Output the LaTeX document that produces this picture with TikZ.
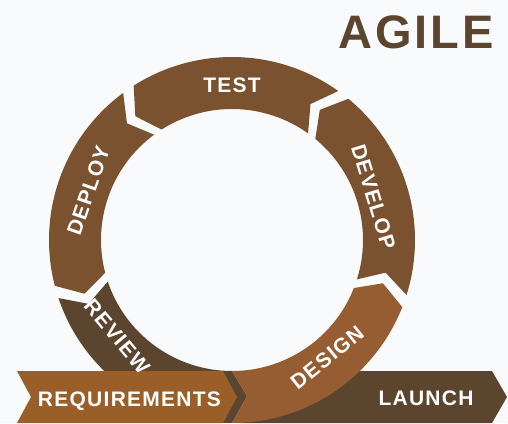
\documentclass[tikz,border=0pt]{standalone}
\usepackage{fontspec}
\setmainfont{Liberation Sans}
\newfontfamily\phasefont{Liberation Sans}[LetterSpace=6]
\usetikzlibrary{calc}
\definecolor{paper}{HTML}{F9FAFB}
\definecolor{ringbrown}{HTML}{7B5230}
\definecolor{designbrown}{HTML}{955D31}
\definecolor{darkbrown}{HTML}{5C452F}
\definecolor{reqbrown}{HTML}{9A5E28}
\def\ringpart[#1](#2:#3){\fill[#1] (#2:183) arc (#2:#3:183) -- ({#3+5.5}:157) -- (#3:131) arc (#3:#2:131) -- ({#2+5.5}:157) -- cycle;}
\tikzset{
	phase/.style={font=\phasefont\bfseries\fontsize{21}{21}\selectfont, text=white, inner sep=0pt, text depth=0pt},
}

\begin{document}
\begin{tikzpicture}[x=1pt, y=1pt]
			%%%%% START %%%%%
			
			\fill[paper] (0, 0) rectangle (508, 423);
			\useasboundingbox (0, 0) rectangle (508, 423);
			
			\node[font=\phasefont\bfseries\fontsize{47}{47}\selectfont, text=darkbrown, inner sep=0pt, text depth=0pt] (agile) at (416, 391) {AGILE};
			
			\fill[darkbrown] (240, 0) -- (300, 52) -- (492, 52) -- (507, 26) -- (492, 0) -- cycle;
			
			\begin{scope}[shift={(232, 183)}]
				\ringpart[darkbrown](198.5:270)
			\end{scope}
			
			\fill[reqbrown] (17, 52) -- (223, 52) -- (237, 26) -- (223, 0) -- (17, 0) -- (31, 26) -- cycle;
			
			\begin{scope}[shift={(232, 183)}]
				\ringpart[designbrown](-90:-21.5)
				\ringpart[ringbrown](-17.5:50.5)
				\ringpart[ringbrown](54.5:122.5)
				\ringpart[ringbrown](126.5:194.5)
				
				\node[phase] (test) at (90:155) {TEST};
				\node[phase, rotate=-73] (develop) at (17:148) {DEVELOP};
				\node[phase, rotate=71] (deploy) at (161:152) {DEPLOY};
				\node[phase, rotate=-50] (review) at (220:150) {REVIEW};
				\node[phase, rotate=39] (design) at (-51:151) {DESIGN};
			\end{scope}
			
			\node[phase] (requirements) at (129.5, 23.5) {REQUIREMENTS};
			\node[phase] (launch) at (426, 25) {LAUNCH};
			
			%%%%% END %%%%%
\end{tikzpicture}
\end{document}
